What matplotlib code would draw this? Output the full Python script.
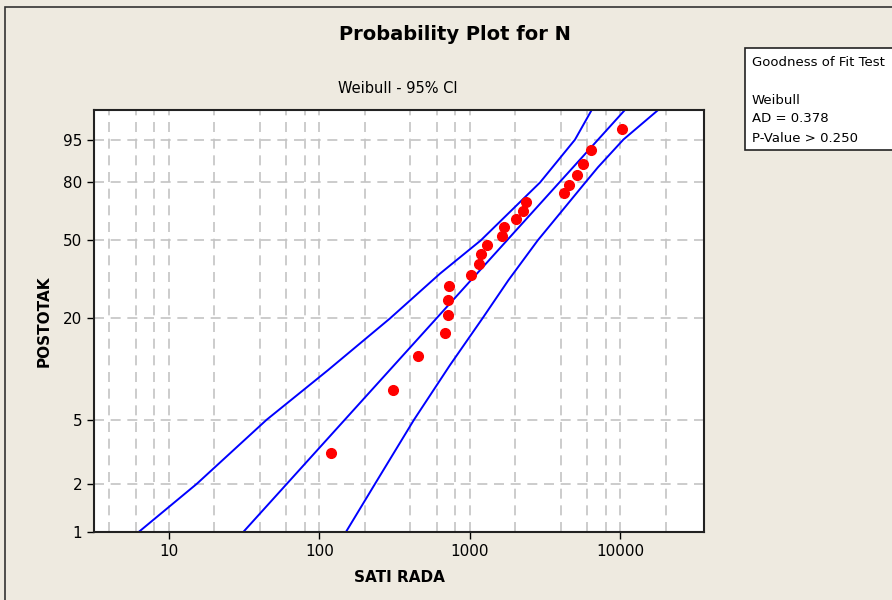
import numpy as np
import matplotlib
matplotlib.use("Agg")
import matplotlib.pyplot as plt
from matplotlib.patches import Rectangle

# podaci sa grafa (sati rada, postotak)
sati = [119, 309, 453, 682, 714, 714, 729, 1020, 1148, 1178, 1291,
        1639, 1682, 2031, 2239, 2345, 4232, 4569, 5140, 5609, 6339, 10280]
postotak = [3.1, 7.6, 12.1, 16.5, 21.0, 25.4, 29.9, 34.4, 38.8, 43.3, 47.8,
            52.2, 56.7, 61.2, 65.6, 70.1, 74.6, 79.0, 83.5, 87.9, 92.4, 96.9]

# pravac modela (Weibull) i granice 95% CI
fit_x = [31.2, 10700]
fit_p = [1, 99]
gornja_x = [6.3, 15.3, 44.6, 114, 294, 632, 1180, 2925, 4990, 6440]
gornja_p = [1, 2, 5, 10, 20, 34.8, 50, 80, 95, 99]
donja_x = [150, 234, 425, 736, 1210, 1800, 2820, 5850, 7080, 10450, 17800]
donja_p = [1, 2, 5, 10.7, 20, 32.2, 50, 80, 86.5, 95, 99]

y_ticks = [1, 2, 5, 20, 50, 80, 95]
x_ticks = [10, 100, 1000, 10000]
x_grid = [4, 6, 8, 10, 20, 40, 60, 80, 100, 200, 400, 600, 800, 1000,
          2000, 4000, 6000, 8000, 10000, 20000]

bg = "#EEEAE0"


def weib(p):
    p = np.clip(np.asarray(p, dtype=float), 1e-6, 100 - 1e-6) / 100.0
    return np.log(-np.log(1 - p))


def weib_inv(y):
    y = np.asarray(y, dtype=float)
    return 100.0 * (1 - np.exp(-np.exp(y)))


plt.rcParams['font.family'] = ['DejaVu Sans']

fig = plt.figure(figsize=(8.92, 6), dpi=100, facecolor=bg)
ax = fig.add_axes([94 / 892, 68 / 600, 610 / 892, 422 / 600])
ax.set_facecolor("white")

ax.set_xscale("log")
ax.set_yscale("function", functions=(weib, weib_inv))
ax.set_xlim(3.18, 35900)
ax.set_ylim(1, 99)

# mreza
for gx in x_grid:
    ax.axvline(gx, color="#C4C4C4", lw=1.2, dashes=(6, 4), zorder=0)
for gy in y_ticks[1:]:
    ax.axhline(gy, color="#C4C4C4", lw=1.2, dashes=(6, 4), zorder=0)

# linije
ax.plot(fit_x, fit_p, color="#0000FF", lw=1.4, zorder=2)
ax.plot(gornja_x, gornja_p, color="#0000FF", lw=1.4, zorder=2)
ax.plot(donja_x, donja_p, color="#0000FF", lw=1.4, zorder=2)
ax.plot(sati, postotak, "o", color="#FF0000", ms=7, mec="#FF0000", zorder=3)

ax.set_xticks(x_ticks)
ax.set_xticklabels([str(v) for v in x_ticks])
ax.xaxis.set_minor_locator(matplotlib.ticker.NullLocator())
ax.set_yticks(y_ticks)
ax.set_yticklabels([str(v) for v in y_ticks])
ax.yaxis.set_minor_locator(matplotlib.ticker.NullLocator())
ax.tick_params(axis="both", direction="out", length=5, width=1, labelsize=11, colors="black")
for s in ax.spines.values():
    s.set_linewidth(1.5)
    s.set_color("#222222")

ax.set_xlabel("SATI RADA", fontsize=11, fontweight="bold", labelpad=8)
ax.set_ylabel("POSTOTAK", fontsize=11, fontweight="bold", labelpad=8)

fig.text(455 / 892, 1 - 35 / 600, "Probability Plot for N", fontsize=14,
         fontweight="bold", ha="center", va="center")
fig.text(398 / 892, 1 - 88 / 600, "Weibull - 95% CI", fontsize=10.5,
         ha="center", va="center")

# okvir oko slike
fig.patches.append(Rectangle((5 / 892, -0.1), 1.2, 1.1 - 7 / 600,
                             transform=fig.transFigure, fill=False,
                             edgecolor="#333333", lw=1.2))

# tablica testa
fig.patches.append(Rectangle((745 / 892, 1 - 150 / 600), 0.3, 102 / 600,
                             transform=fig.transFigure, facecolor="white",
                             edgecolor="#222222", lw=1.2))
for yy, txt in [(62, "Goodness of Fit Test"), (100, "Weibull"),
                (119, "AD = 0.378"), (138, "P-Value > 0.250")]:
    fig.text(752 / 892, 1 - yy / 600, txt, fontsize=9.5, ha="left", va="center")

fig.savefig("out.png", dpi=100, facecolor=bg)
